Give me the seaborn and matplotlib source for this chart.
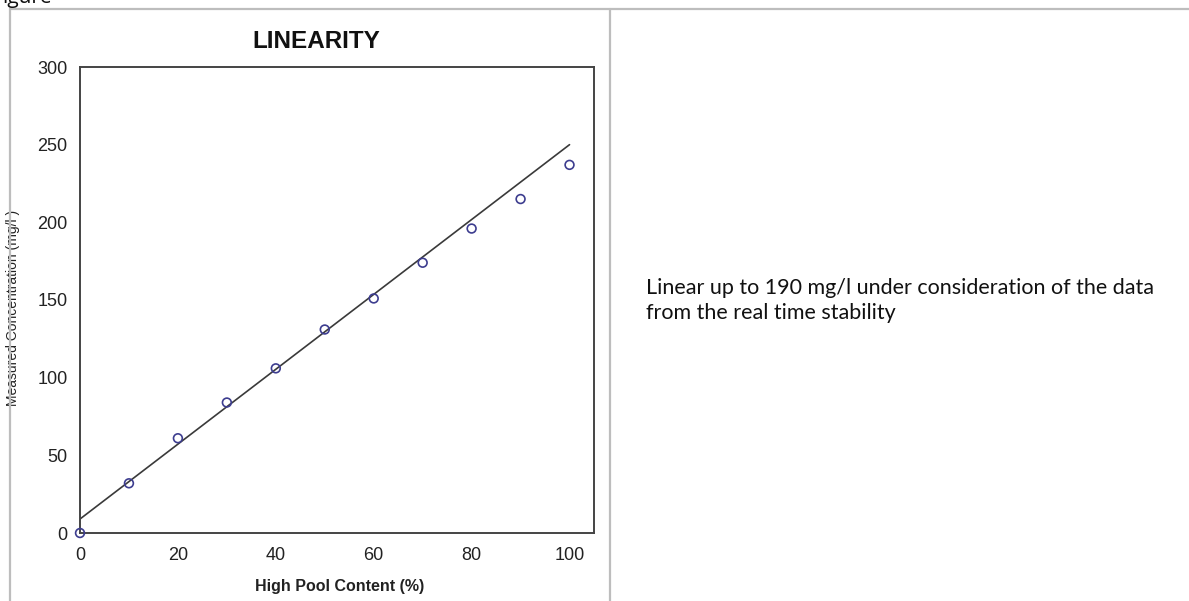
import numpy as np
import pandas as pd
import seaborn as sns
import matplotlib
matplotlib.use('Agg')
import matplotlib.pyplot as plt
from matplotlib.lines import Line2D

# data
pool_content = [0, 10, 20, 30, 40, 50, 60, 70, 80, 90, 100]
measured = [0, 32, 61, 84, 106, 131, 151, 174, 196, 215, 237]
fit_x = [0, 100]
fit_y = [9, 250]
x_ticks = [0, 20, 40, 60, 80, 100]
y_ticks = [0, 50, 100, 150, 200, 250, 300]
note_lines = ['Linear up to 190 mg/l under consideration of the data',
              'from the real time stability']

sns.set_style('white')
chart_font = ['Liberation Sans Narrow', 'Liberation Sans', 'DejaVu Sans']
plt.rcParams['font.family'] = chart_font

W, H = 1189, 601
fig = plt.figure(figsize=(W / 100, H / 100), dpi=100)

def fx(px):
    return px / W

def fy(py):
    return 1 - py / H

# table frame of the document
grey = '#bdbdbd'
fig.add_artist(Line2D([fx(10), 1], [fy(9), fy(9)], color=grey, lw=1.6))
fig.add_artist(Line2D([fx(10), fx(10)], [fy(9), 0], color=grey, lw=1.6))
fig.add_artist(Line2D([fx(610), fx(610)], [fy(9), 0], color=grey, lw=1.6))
fig.text(fx(2), fy(3.5), 'igure', fontsize=15, va='baseline', ha='left',
         family=['Open Sans', 'DejaVu Sans'], color='#111111')

ax = fig.add_axes([fx(80), fy(533), fx(594) - fx(80), fy(67) - fy(533)])

df = pd.DataFrame({'pool': pool_content, 'conc': measured})
fit = pd.DataFrame({'pool': fit_x, 'conc': fit_y})

sns.lineplot(data=fit, x='pool', y='conc', ax=ax, color='#3a3a3a', lw=1.2)
sns.scatterplot(data=df, x='pool', y='conc', ax=ax, marker='o', s=40,
                facecolor='none', edgecolor='#3d3d8f', linewidth=1.2,
                zorder=3, clip_on=False)

ax.set_xlim(0, 105)
ax.set_ylim(0, 300)
ax.set_xticks(x_ticks)
ax.set_yticks(y_ticks)
ax.tick_params(direction='in', length=4, width=1, color='#555555',
               labelsize=13, labelcolor='#222222')
ax.tick_params(axis='y', pad=9)
ax.tick_params(axis='x', pad=10)
for sp in ax.spines.values():
    sp.set_color('#444444')
    sp.set_linewidth(1.4)
    sp.set_visible(True)

ax.set_xlabel('High Pool Content (%)', fontsize=11.5, fontweight='bold',
              color='#222222', va='center')
ax.xaxis.set_label_coords(0.506, (533 - 587) / 466)
ax.set_ylabel('Measured Concentration (mg/l )', fontsize=10, color='#222222',
              va='center', family=['Liberation Sans', 'DejaVu Sans'])
ax.yaxis.set_label_coords((13 - 80) / 514, (533 - 308) / 466)

fig.text(fx(316), fy(42), 'LINEARITY', fontsize=17.5, fontweight='bold',
         ha='center', va='center', color='#111111')

note_font = ['Lato', 'Open Sans', 'DejaVu Sans']
for i, line in enumerate(note_lines):
    fig.text(fx(646), fy(288 + 25 * i), line, fontsize=15.5, ha='left',
             va='center', family=note_font, color='#111111')

fig.savefig('out.png', dpi=100)
